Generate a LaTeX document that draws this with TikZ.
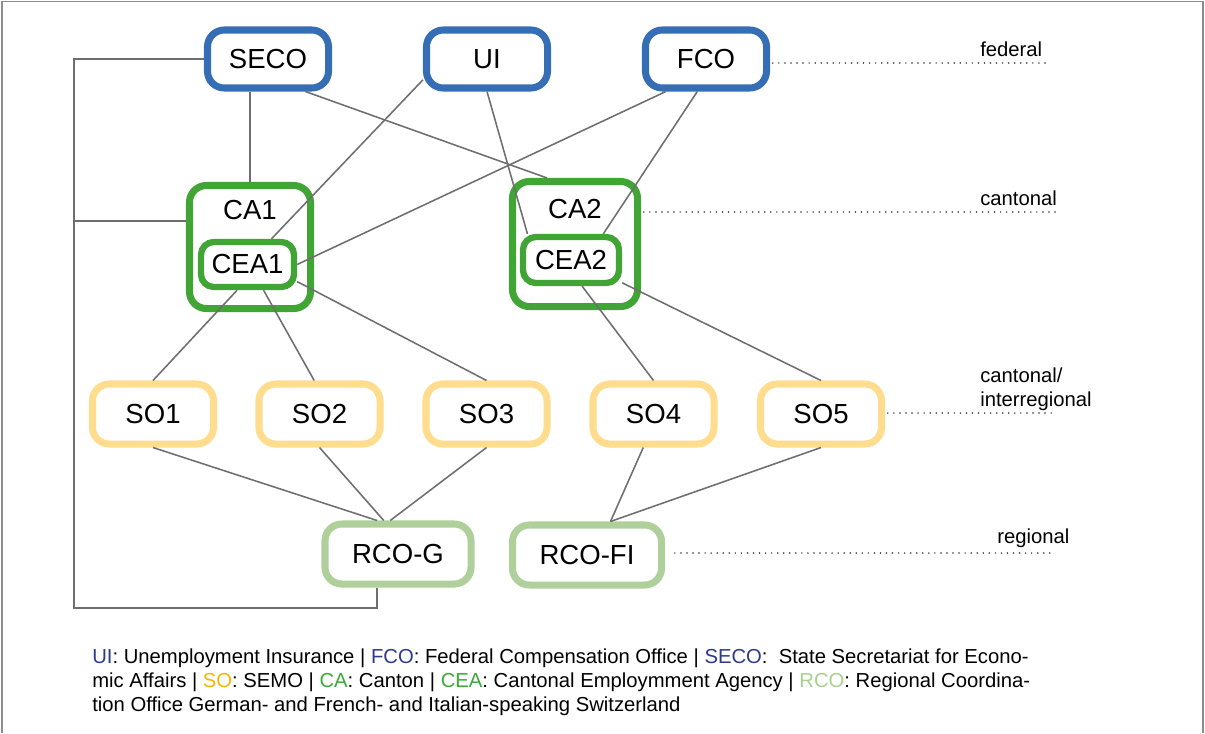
\documentclass[tikz,border=0pt]{standalone}
\usepackage{fontspec}
\setmainfont{Liberation Sans}
\usetikzlibrary{positioning}

\definecolor{fedblue}{HTML}{356EB5}
\definecolor{cagreen}{HTML}{41A536}
\definecolor{soyellow}{HTML}{FFDC8E}
\definecolor{rcogreen}{HTML}{AFD09A}
\definecolor{linkgray}{HTML}{6E6E6E}
\definecolor{framegray}{HTML}{8C8C8C}
\definecolor{txtblue}{HTML}{2E3A8C}
\definecolor{txtyellow}{HTML}{F5B800}
\definecolor{txtgreen}{HTML}{3AAA35}
\definecolor{txtrco}{HTML}{A9D18E}

\begin{document}
\begin{tikzpicture}[x=0.025cm, y=-0.025cm] %Akteure
			\tikzstyle{box} = [rectangle, draw, line width=5pt, rounded corners=0.42cm, inner sep=0pt, text centered, font=\fontsize{19.6}{23}\selectfont]
			\tikzstyle{fedbox} = [box, draw=fedblue, minimum width=3.025cm, minimum height=1.45cm]
			\tikzstyle{cabox} = [box, draw=cagreen]
			\tikzstyle{ceabox} = [box, draw=cagreen, line width=4.5pt, rounded corners=0.32cm]
			\tikzstyle{sobox} = [box, draw=soyellow, minimum width=3.025cm, minimum height=1.5cm]
			\tikzstyle{rcobox} = [box, draw=rcogreen, minimum height=1.5cm]
			\tikzstyle{calabel} = [anchor=north, inner sep=0pt, yshift=-12.5pt, font=\fontsize{19.6}{23}\selectfont]
			\tikzstyle{link} = [draw=linkgray, line width=1.1pt]
			\tikzstyle{level} = [draw=black!80, line width=1.2pt, line cap=round, dash pattern=on 0pt off 4.3pt]
			\tikzstyle{leveltext} = [inner sep=0pt, align=left, font=\fontsize{14.4}{16.4}\selectfont]
			\useasboundingbox (0,0) rectangle (1205,733);
			\draw[framegray, line width=1.4pt] (2,733) -- (2,1.5) -- (1203,1.5) -- (1203,733);
			% federal
			\foreach \name/\x in {SECO/268, UI/487, FCO/706}
			{
				\node[fedbox] (\name) at (\x,59) {\name};
			}
			% cantonal
			\node[cabox, minimum width=3.025cm, minimum height=3.075cm, label={[calabel]north:CA1}] (CA1) at (250,247) {};
			\node[ceabox, minimum width=2.325cm, minimum height=1.125cm] (CEA1) at (247.5,264.5) {CEA1};
			\node[cabox, minimum width=3.125cm, minimum height=3.125cm, label={[calabel, yshift=-2.5pt]north:CA2}] (CA2) at (575,244) {};
			\node[ceabox, minimum width=2.4cm, minimum height=1.15cm] (CEA2) at (571,260) {CEA2};
			% SEMO
			\foreach \name/\x in {SO1/153, SO2/319.5, SO3/486.5, SO4/653.5, SO5/821}
			{
				\node[sobox] (\name) at (\x,414) {\name};
			}
			% regional
			\node[rcobox, minimum width=3.65cm] (RCOG) at (398,554) {RCO-G};
			\node[rcobox, minimum width=3.725cm] (RCOFI) at (587,555) {RCO-FI};
			% Verbindungen
			\draw[link] (CA1.north |- SECO.south) -- (CA1.north);
			\foreach \from/\to in {SECO.-41/CA2.113, UI.-162/CEA1.47, UI.south/CEA2.149, FCO.-141/CEA1.east, FCO.-105/CEA2.39, CEA1.-112/SO1.north, CEA1.-58/SO2.99, CEA1.-19/SO3.north, CEA2.-67/SO4.north, CEA2.-24/SO5.north, SO1.south/RCOG.122, SO2.south/RCOG.113, SO3.south/RCOG.103, SO4.-107/RCOFI.55, SO5.south/RCOFI.55}
			{
				\draw[link] (\from) -- (\to);
			}
			\coordinate (brk mid) at (74,221);
			\coordinate (brk bottom) at (74,608);
			\draw[link] (SECO.west) -| (brk bottom) -| (RCOG.-122);
			\draw[link] (brk mid) -- (brk mid -| CA1.west);
			% Ebenen
			\coordinate (fed end) at (1050,63);
			\coordinate (cant end) at (1057,212);
			\coordinate (inter end) at (1057,413);
			\coordinate (reg end) at (1050,553);
			\draw[level, shorten <=2pt] (FCO.east |- fed end) -- (fed end);
			\draw[level, shorten <=2pt] (CA2.east |- cant end) -- (cant end);
			\draw[level, shorten <=2pt] (SO5.east |- inter end) -- (inter end);
			\draw[level, shorten <=7pt] (RCOFI.east |- reg end) -- (reg end);
			\node[leveltext, anchor=base west] (federal) at (980,56) {federal};
			\node[leveltext, anchor=base west] (cantonal) at (980,205) {cantonal};
			\node[leveltext, anchor=north west] (interregional) at (980,368) {cantonal/\\interregional};
			\node[leveltext, anchor=base west] (regional) at (997,543) {regional};
			% Legende
			\node[inner sep=0pt, align=left, anchor=north west, font=\fontsize{14.4}{16.9}\selectfont] (legend) at (92,649) {\textcolor{txtblue}{UI}: Unemployment Insurance | \textcolor{txtblue}{FCO}: Federal Compensation Office | \textcolor{txtblue}{SECO}:\ \ State Secretariat for Econo-\\mic Affairs | \textcolor{txtyellow}{SO}: SEMO | \textcolor{txtgreen}{CA}: Canton | \textcolor{txtgreen}{CEA}: Cantonal Employmment Agency | \textcolor{txtrco}{RCO}: Regional Coordina-\\tion Office German- and French- and Italian-speaking Switzerland};
		\end{tikzpicture}
\end{document}
